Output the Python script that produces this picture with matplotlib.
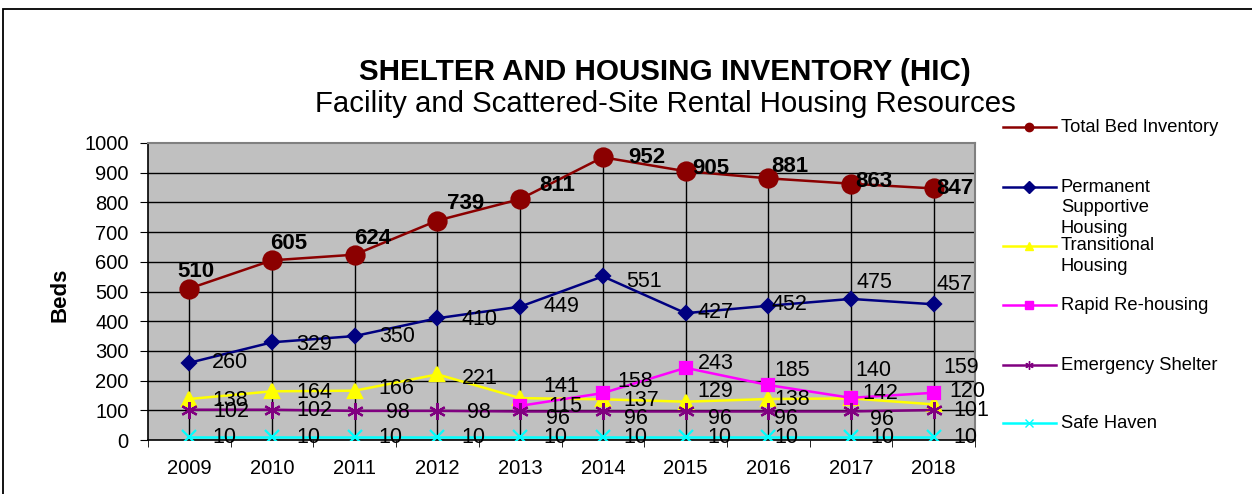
import matplotlib
matplotlib.use('Agg')
import matplotlib.pyplot as plt
from matplotlib.lines import Line2D
from matplotlib.patches import Rectangle

plt.rcParams['font.family'] = ['Liberation Sans', 'DejaVu Sans']

years = ['2009', '2010', '2011', '2012', '2013', '2014', '2015', '2016', '2017', '2018']

total_beds = [510, 605, 624, 739, 811, 952, 905, 881, 863, 847]
permanent_supportive = [260, 329, 350, 410, 449, 551, 427, 452, 475, 457]
transitional = [138, 164, 166, 221, 141, 137, 129, 138, 140, 120]
rapid_rehousing = [None, None, None, None, 115, 158, 243, 185, 142, 159]
emergency_shelter = [102, 102, 98, 98, 96, 96, 96, 96, 96, 101]
safe_haven = [10, 10, 10, 10, 10, 10, 10, 10, 10, 10]

W, H = 1252, 494
fig = plt.figure(figsize=(W / 100, H / 100), dpi=100)
ax = fig.add_axes([148 / W, 1 - 440 / H, 827 / W, 297 / H])
ax.set_facecolor('#c0c0c0')

x = list(range(len(years)))

# series: label, values, color, marker, markersize, label weight, label offsets (px)
series = [
    ('Total Bed Inventory', total_beds, '#8b0000', 'o', 13, 'bold',
     [(-12, 17), (-2, 17), (-1, 16), (10, 17), (19, 14), (25, 0), (7, 3), (3, 12), (4, 2), (3, 0)]),
    ('Permanent\nSupportive\nHousing', permanent_supportive, '#000080', 'D', 7, 'normal',
     [(23, 0), (24, -2), (24, 0), (24, -1), (23, 0), (23, -5), (12, 1), (3, 1), (6, 16), (3, 20)]),
    ('Transitional\nHousing', transitional, '#ffff00', '^', 10, 'normal',
     [(23, -1), (24, -1), (24, 2), (24, -4), (23, 12), (21, -1), (12, 10), (6, 0), (4, 28), (16, 13)]),
    ('Rapid Re-housing', rapid_rehousing, '#ff00ff', 's', 9, 'normal',
     [None, None, None, None, (28, -1), (15, 12), (12, 4), (6, 15), (11, 4), (10, 25)]),
    ('Emergency Shelter', emergency_shelter, '#800080', (6, 2, 0), 12, 'normal',
     [(24, -2), (24, -1), (31, -2), (30, -2), (26, -7), (21, -7), (22, -7), (6, -7), (19, -8), (20, 0)]),
    ('Safe Haven', safe_haven, '#00ffff', 'x', 10, 'normal',
     [(23, 0), (24, 0), (24, 0), (24, 0), (23, 0), (21, 0), (22, 0), (6, 0), (19, 0), (20, 0)]),
]

# gridlines and drop lines
for v in range(100, 1000, 100):
    ax.axhline(v, color='black', lw=1, zorder=1)
ax.vlines(x, 0, total_beds, color='black', lw=1, zorder=1.5)

for name, vals, color, marker, ms, weight, offs in series:
    xs = [i for i, v in zip(x, vals) if v is not None]
    ys = [v for v in vals if v is not None]
    ax.plot(xs, ys, color=color, lw=1.8, marker=marker, markersize=ms,
            markerfacecolor=color, markeredgecolor=color, markeredgewidth=1.6,
            zorder=3)
    for i, v in zip(x, vals):
        if v is None:
            continue
        ax.annotate(str(v), (i, v), xytext=offs[i], textcoords='offset pixels',
                    ha='left', va='center', fontsize=16 if weight == 'bold' else 15.5,
                    fontweight=weight, color='black', zorder=4)

ax.set_xlim(-0.5, len(years) - 0.5)
ax.set_ylim(0, 1000)
ax.set_yticks(range(0, 1001, 100))
ax.set_xticks(x)
ax.set_xticklabels(years)
ax.set_xticks([i - 0.5 for i in range(len(years) + 1)], minor=True)
ax.tick_params(axis='x', which='major', length=0, pad=14, labelsize=14.5)
ax.tick_params(axis='x', which='minor', length=5, direction='out', color='black')
ax.tick_params(axis='y', length=6, direction='out', labelsize=14.5, pad=8)
for s in ['left', 'bottom']:
    ax.spines[s].set_color('black')
    ax.spines[s].set_linewidth(1.2)
for s in ['top', 'right']:
    ax.spines[s].set_color('#808080')
    ax.spines[s].set_linewidth(1.5)

fig.text(60 / W, 1 - 295 / H, 'Beds', rotation=90, ha='center', va='center',
         fontsize=16, fontweight='bold')
fig.text(665 / W, 1 - 72 / H, 'SHELTER AND HOUSING INVENTORY (HIC)', ha='center',
         va='center', fontsize=21.3, fontweight='bold')
fig.text(665 / W, 1 - 104 / H, 'Facility and Scattered-Site Rental Housing Resources',
         ha='center', va='center', fontsize=21.2)

# legend drawn by hand to follow the original spacing
legend_y = [127, 187, 246, 305, 365, 423]
for (name, vals, color, marker, ms, weight, offs), ly in zip(series, legend_y):
    yf = 1 - ly / H
    fig.add_artist(Line2D([1003 / W, 1056 / W], [yf, yf], transform=fig.transFigure,
                          color=color, lw=1.8))
    fig.add_artist(Line2D([1029 / W], [yf], transform=fig.transFigure, color=color,
                          marker=marker, markersize=6, markerfacecolor=color,
                          markeredgecolor=color, lw=0))
    for k, line in enumerate(name.split('\n')):
        fig.text(1061 / W, 1 - (ly + k * 20.5) / H, line, ha='left', va='center',
                 fontsize=13.2)

fig.add_artist(Rectangle((3 / W, -0.1), 1.2, 1.1 - 9 / H, transform=fig.transFigure,
                         fill=False, ec='black', lw=1.3))

fig.savefig('out.png', dpi=100)
